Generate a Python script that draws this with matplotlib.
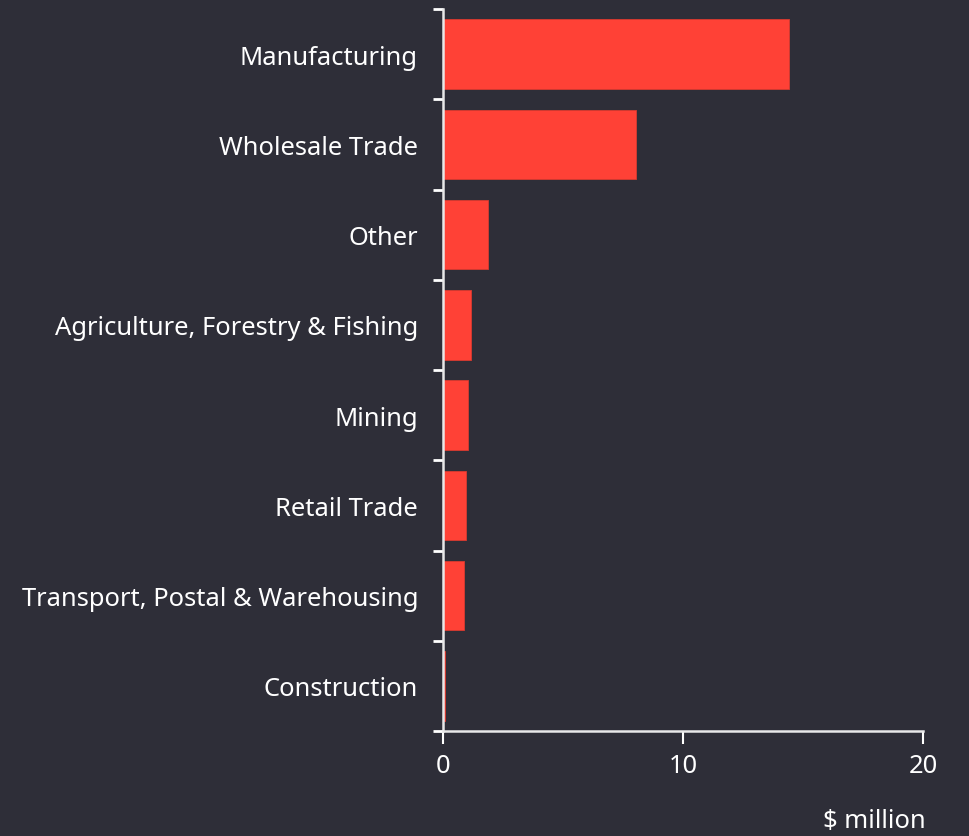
import matplotlib
matplotlib.use("Agg")
from matplotlib import pyplot as plt
from matplotlib.ticker import FixedLocator

categories = [
    "Manufacturing",
    "Wholesale Trade",
    "Other",
    "Agriculture, Forestry & Fishing",
    "Mining",
    "Retail Trade",
    "Transport, Postal & Warehousing",
    "Construction",
]
values = [14.4, 8.04, 1.88, 1.17, 1.04, 0.96, 0.88, 0.08]
x_ticks = [0, 10, 20]

bg = "#2e2e38"
red = "#ff4136"
fg = "#ffffff"

plt.rcParams["font.family"] = ["Noto Sans", "DejaVu Sans"]

fig = plt.figure(figsize=(9.69, 8.37), dpi=100, facecolor=bg)
ax = fig.add_axes([443 / 969, 1 - 732 / 837, 480 / 969, 722 / 837])
ax.set_facecolor(bg)

pos = list(range(len(categories)))
ax.barh(pos, values, height=0.77, color=red, edgecolor="#d93a30", linewidth=0.6)

ax.set_ylim(len(categories) - 0.5, -0.5)
ax.set_xlim(0, 20)
ax.set_xticks(x_ticks)
ax.set_xticklabels([str(t) for t in x_ticks])
ax.set_yticks(pos)
ax.set_yticklabels(categories)
ax.yaxis.set_minor_locator(FixedLocator([p - 0.5 for p in pos] + [len(pos) - 0.5]))

ax.tick_params(axis="y", which="major", length=0, pad=18, labelsize=18.4, labelcolor=fg)
ax.tick_params(axis="y", which="minor", length=7, width=2, color=fg)
ax.tick_params(axis="x", length=9, width=1.5, color=fg, labelsize=18.4, labelcolor=fg, pad=7)

for side in ["top", "right"]:
    ax.spines[side].set_visible(False)
for side in ["left", "bottom"]:
    ax.spines[side].set_color("#e8e8e8")
    ax.spines[side].set_linewidth(1.8)

fig.text(926 / 969, 1 - 822 / 837, "$ million", color=fg, fontsize=18.4,
         ha="right", va="center")

fig.savefig("out.png", dpi=100, facecolor=bg)
